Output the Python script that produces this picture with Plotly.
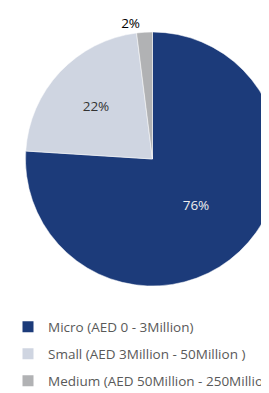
import plotly.graph_objects as go

labels = ["Micro (AED 0 - 3Million)", "Small (AED 3Million - 50Million )", "Medium (AED 50Million - 250Million)"]
values = [76, 22, 2]
colors = ["#1c3b7a", "#cfd5e1", "#b1b2b4"]
text_colors = ["#eeeeee", "#333333", "#333333"]

fig = go.Figure()
fig.add_trace(go.Pie(
    labels=labels, values=values, sort=False, direction="clockwise", rotation=0,
    marker=dict(colors=colors, line=dict(color="#ffffff", width=0.5)),
    textinfo="percent", textposition="auto", insidetextorientation="horizontal",
    textfont=dict(family="Open Sans", size=13.5, color=text_colors),
    showlegend=False, hoverinfo="label+percent",
))
for lab, col in zip(labels, colors):
    fig.add_trace(go.Scatter(
        x=[5], y=[5], mode="markers", name=lab, legendgroup=lab, hoverinfo="skip",
        marker=dict(symbol="square", size=11, color=col),
    ))

fig.update_layout(
    width=272, height=385,
    margin=dict(l=17, r=0, t=24, b=107, autoexpand=False),
    paper_bgcolor="#ffffff", plot_bgcolor="rgba(0,0,0,0)",
    xaxis=dict(visible=False, range=[0, 1], fixedrange=True),
    yaxis=dict(visible=False, range=[0, 1], fixedrange=True),
    legend=dict(xref="container", yref="container", x=0.0, y=0.212, xanchor="left", yanchor="top",
                traceorder="grouped", tracegroupgap=6.5,
                font=dict(family="Open Sans", size=13.5, color="#595959")),
)
fig.write_html("out.html")
